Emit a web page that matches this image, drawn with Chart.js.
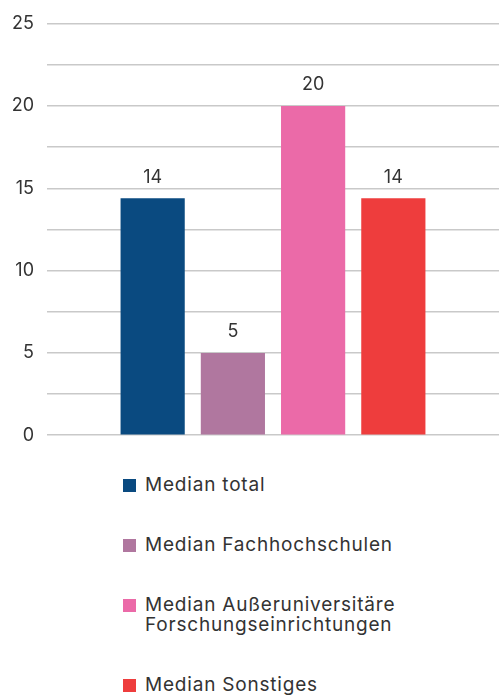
<!DOCTYPE html>
<html>
<head>
<meta charset="utf-8">
<script src="https://cdn.jsdelivr.net/npm/chart.js@4/dist/chart.umd.min.js"></script>
<style>
  html, body { margin: 0; padding: 0; background: #fff; }
  body { width: 499px; height: 698px; position: relative; overflow: hidden; font-family: "Inter", sans-serif; color: #333; }
  .chart-box { position: absolute; left: 0; top: 0; width: 499px; height: 459px; }
  .legend { position: absolute; left: 123px; top: 475px; margin: 0; padding: 0; list-style: none; }
  .legend li { position: relative; padding-left: 22px; font-size: 19px; letter-spacing: 0.8px; line-height: 20px; margin-bottom: 40px; }
  .legend li span { position: absolute; left: 0; top: 4px; width: 13px; height: 13px; }
</style>
</head>
<body>
<div class="chart-box"><canvas id="chart"></canvas></div>
<ul class="legend" id="legend"></ul>
<script>
// series names and values (median per institution type)
const seriesNames = ['Median total', 'Median Fachhochschulen', 'Median Außeruniversitäre\nForschungseinrichtungen', 'Median Sonstiges'];
const seriesValues = [14.4, 5, 20, 14.4];
const seriesColors = ['#0a4a80', '#b0779f', '#eb6aa8', '#ee3d3d'];
const yTicks = [0, 5, 10, 15, 20, 25];

const datasets = seriesNames.map((name, i) => ({
  label: name,
  data: [seriesValues[i]],
  backgroundColor: seriesColors[i],
  borderWidth: 0,
  barPercentage: 0.8,
  categoryPercentage: 0.71,
}));

// draws the rounded value above each bar
const valueLabels = {
  id: 'valueLabels',
  afterDatasetsDraw(chart) {
    const ctx = chart.ctx;
    ctx.save();
    ctx.font = '18px Inter, sans-serif';
    ctx.fillStyle = '#333';
    ctx.textAlign = 'center';
    ctx.textBaseline = 'bottom';
    chart.data.datasets.forEach((ds, i) => {
      const bar = chart.getDatasetMeta(i).data[0];
      ctx.fillText(Math.round(ds.data[0]), bar.x, bar.y - 12);
    });
    ctx.restore();
  }
};

new Chart(document.getElementById('chart'), {
  type: 'bar',
  data: { labels: [''], datasets: datasets },
  options: {
    responsive: true,
    maintainAspectRatio: false,
    animation: false,
    layout: { padding: { top: 15, bottom: 12, right: 0, left: 0 } },
    plugins: { legend: { display: false }, tooltip: { enabled: false } },
    scales: {
      x: { display: false },
      y: {
        min: 0,
        max: 25,
        border: { display: false },
        grid: { color: '#c9c9c9', lineWidth: 1.5, drawTicks: false },
        afterFit(scale) { scale.width = 47; },
        ticks: {
          stepSize: 2.5,
          padding: 13,
          color: '#333',
          font: { family: 'Inter', size: 18 },
          callback: (v) => yTicks.includes(v) ? v : ''
        }
      }
    }
  },
  plugins: [valueLabels]
});

// html legend built from the series arrays
const legend = document.getElementById('legend');
seriesNames.forEach((name, i) => {
  const li = document.createElement('li');
  const sw = document.createElement('span');
  sw.style.background = seriesColors[i];
  li.appendChild(sw);
  name.split('\n').forEach((line, j) => {
    if (j) li.appendChild(document.createElement('br'));
    li.appendChild(document.createTextNode(line));
  });
  legend.appendChild(li);
});
</script>
</body>
</html>
